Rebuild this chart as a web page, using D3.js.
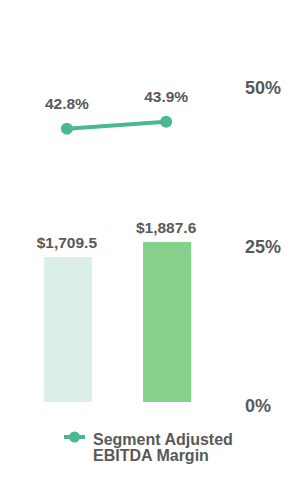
<!DOCTYPE html>
<html>
<head>
<meta charset="utf-8">
<script src="https://cdn.jsdelivr.net/npm/d3@7"></script>
<style>
  body { margin: 0; background: #fff; }
  svg text { font-family: "Liberation Sans", Arial, sans-serif; font-weight: bold; fill: #595959; }
</style>
</head>
<body>
<div id="chart"></div>
<script>
// chart data
const periods = ["Prior", "Current"];
const revenue = [1709.5, 1887.6];
const revenueLabels = ["$1,709.5", "$1,887.6"];
const margin = [42.8, 43.9];
const pctTicks = [0, 25, 50];
const barColors = ["#dbeee8", "#85d08a"];
const lineColor = "#4cb893";

const width = 300, height = 500;

const svg = d3.select("#chart").append("svg")
    .attr("width", width)
    .attr("height", height);

// x band scale for the two periods
const x = d3.scaleBand()
    .domain(periods)
    .range([19, 216])
    .paddingInner(0.515)
    .paddingOuter(0.25);

// bars use their own (hidden) value axis
const yBar = d3.scaleLinear().domain([0, 3750]).range([402, 84]);
// percent axis on the right
const yPct = d3.scaleLinear().domain([0, 50]).range([402, 84]);

// bars
svg.selectAll(".bar")
    .data(revenue)
    .enter()
    .append("rect")
    .attr("class", "bar")
    .attr("x", (d, i) => x(periods[i]))
    .attr("y", d => yBar(d))
    .attr("width", x.bandwidth())
    .attr("height", d => yBar(0) - yBar(d))
    .attr("fill", (d, i) => barColors[i]);

svg.selectAll(".bar-label")
    .data(revenue)
    .enter()
    .append("text")
    .attr("x", (d, i) => x(periods[i]) + x.bandwidth() / 2 - 1)
    .attr("y", d => yBar(d) - 9)
    .attr("text-anchor", "middle")
    .style("font-size", "15.5px")
    .text((d, i) => revenueLabels[i]);

// right axis labels (no line, no ticks)
const axis = d3.axisRight(yPct)
    .tickValues(pctTicks)
    .tickFormat(d => d + "%")
    .tickSize(0)
    .tickPadding(0);

const gAxis = svg.append("g")
    .attr("transform", "translate(245,0)")
    .call(axis);
gAxis.select(".domain").remove();
gAxis.selectAll("text")
    .attr("dy", "0.5em")
    .style("font-size", "18px")
    .style("font-family", "\"Liberation Sans\", Arial, sans-serif")
    .attr("fill", "#595959");

// margin line
const line = d3.line()
    .x((d, i) => x(periods[i]) + x.bandwidth() / 2 - 1)
    .y(d => yPct(d) - 1);

svg.append("path")
    .datum(margin)
    .attr("d", line)
    .attr("fill", "none")
    .attr("stroke", lineColor)
    .attr("stroke-width", 4);

svg.selectAll(".dot")
    .data(margin)
    .enter()
    .append("circle")
    .attr("cx", (d, i) => x(periods[i]) + x.bandwidth() / 2 - 1)
    .attr("cy", d => yPct(d) - 1)
    .attr("r", 6)
    .attr("fill", lineColor);

svg.selectAll(".dot-label")
    .data(margin)
    .enter()
    .append("text")
    .attr("x", (d, i) => x(periods[i]) + x.bandwidth() / 2 - 1)
    .attr("y", d => yPct(d) - 21)
    .attr("text-anchor", "middle")
    .style("font-size", "15.5px")
    .text(d => d.toFixed(1) + "%");

// legend
const legend = svg.append("g").attr("transform", "translate(0,437)");
legend.append("line")
    .attr("x1", 64).attr("x2", 85)
    .attr("y1", 0).attr("y2", 0)
    .attr("stroke", lineColor)
    .attr("stroke-width", 4);
legend.append("circle")
    .attr("cx", 74.5).attr("cy", 0).attr("r", 5.5)
    .attr("fill", lineColor);
const lt = legend.append("text")
    .attr("x", 93)
    .attr("y", 8)
    .style("font-size", "16px");
lt.append("tspan").attr("x", 93).text("Segment Adjusted");
lt.append("tspan").attr("x", 93).attr("dy", 16).text("EBITDA Margin");
</script>
</body>
</html>
